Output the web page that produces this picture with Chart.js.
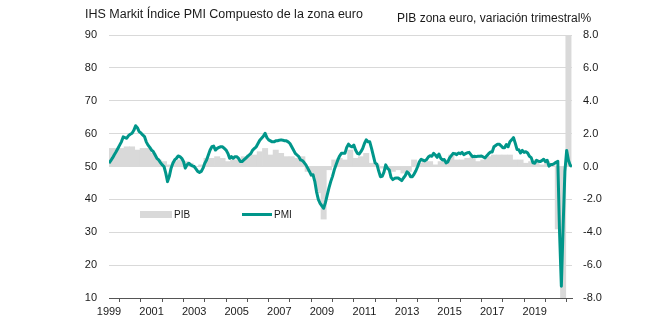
<!DOCTYPE html>
<html>
<head>
<meta charset="utf-8">
<script src="https://cdn.jsdelivr.net/npm/chart.js@4.4.1/dist/chart.umd.min.js"></script>
<style>
  body { margin: 0; background: #fff; }
  #wrap { width: 668px; height: 322px; }
</style>
</head>
<body>
<div id="wrap"><canvas id="pmiChart" width="668" height="322"></canvas></div>
<script>
// Eurozone composite PMI (monthly, Jan 1999 - Oct 2020) vs GDP q/q % (quarterly)

const leftTitle = 'IHS Markit Índice PMI Compuesto de la zona euro';
const rightTitle = 'PIB zona euro, variación trimestral%';
const gdpLabel = 'PIB';
const pmiLabel = 'PMI';

const firstYear = 1999;
const yearTicks = [1999, 2001, 2003, 2005, 2007, 2009, 2011, 2013, 2015, 2017, 2019];

// monthly, starting Jan 1999
const pmiComposite = [
  51.0, 51.8, 52.6, 53.6, 54.5, 55.5, 56.5, 57.5, 59.0, 58.8, 58.6, 59.4,
  59.8, 60.1, 61.0, 62.4, 61.8, 60.6, 60.2, 59.6, 59.1, 57.5, 56.5, 55.8,
  55.0, 54.5, 53.5, 52.5, 52.0, 51.2, 50.5, 50.0, 48.0, 45.4, 47.0, 49.5,
  51.0, 52.0, 52.5, 53.2, 53.0, 52.5, 51.5, 49.5, 50.5, 51.0, 50.5, 50.2,
  50.0, 49.3, 48.5, 48.2, 48.5, 49.5, 51.0, 52.0, 53.5, 55.0, 56.0, 56.2,
  55.0, 55.5, 55.8, 56.0, 56.0, 55.5, 55.0, 54.0, 52.5, 53.0, 52.5, 53.0,
  53.0, 52.5, 51.5, 51.5, 52.0, 52.5, 53.0, 53.5, 54.0, 55.0, 55.5, 56.0,
  57.0, 58.0, 58.6, 59.2, 60.1, 58.8, 58.1, 57.8, 57.5, 57.5, 57.8, 57.8,
  58.0, 58.1, 58.0, 57.8, 57.8, 57.5, 57.0, 56.0, 55.0, 54.0, 53.5, 53.0,
  52.0, 51.8, 51.2, 50.5, 49.5, 48.5, 47.4, 47.5, 45.5, 42.3, 40.0, 38.8,
  38.0, 37.3, 39.0, 41.3, 43.5, 45.4, 47.0, 49.0, 50.5, 52.0, 53.2, 54.0,
  54.0, 54.0, 55.8, 56.8, 56.2, 56.0, 56.5, 55.0, 54.0, 53.8, 54.5, 55.5,
  57.0, 58.1, 57.5, 57.5, 55.5, 53.3, 51.1, 50.7, 48.7, 46.9, 47.0, 48.3,
  50.5, 49.5, 48.9, 46.7, 46.0, 46.4, 46.5, 46.5, 46.1, 45.7, 46.5, 47.2,
  48.4, 47.9, 46.9, 46.9, 47.7, 48.7, 50.0, 51.5, 52.2, 51.9, 51.7, 52.1,
  52.9, 53.3, 53.1, 54.0, 53.5, 52.8, 53.8, 52.5, 52.0, 52.1, 51.1, 51.4,
  52.6, 53.3, 54.0, 53.9, 53.6, 54.1, 53.9, 54.3, 53.6, 53.9, 54.2, 54.3,
  53.6, 53.0, 53.1, 53.0, 53.1, 53.1, 53.2, 52.9, 52.6, 53.3, 53.9, 54.4,
  54.4, 56.0, 56.4, 56.8, 56.8, 56.3, 55.7, 55.7, 56.7, 56.0, 57.5, 58.1,
  58.8, 57.1, 55.2, 55.1, 54.1, 54.9, 54.3, 54.5, 54.1, 53.1, 52.7, 51.1,
  51.0, 51.9, 51.6, 51.5, 51.8, 52.2, 51.5, 51.9, 50.1, 50.6, 50.6, 50.9,
  51.3, 51.6, 29.7, 13.6, 31.9, 48.5, 54.9, 51.9, 50.4, 50.0
];

// quarterly, starting Q1 1999
const gdpQoQ = [
  1.1, 1.1, 1.1, 1.2,
  1.2, 1.0, 1.1, 1.1,
  0.8, 0.4, 0.3, 0.1,
  0.3, 0.4, 0.3, 0.2,
  0.0, 0.1, 0.5, 0.5,
  0.6, 0.5, 0.3, 0.4,
  0.4, 0.6, 0.7, 0.7,
  0.9, 1.1, 0.7, 1.0,
  0.8, 0.6, 0.6, 0.5,
  0.6, -0.3, -0.6, -1.6,
  -3.2, -0.2, 0.4, 0.5,
  0.4, 1.0, 0.5, 0.6,
  0.8, 0.2, 0.1, -0.1,
  -0.2, -0.3, -0.2, -0.4,
  -0.3, 0.4, 0.2, 0.3,
  0.3, 0.1, 0.3, 0.4,
  0.7, 0.4, 0.4, 0.5,
  0.6, 0.3, 0.4, 0.6,
  0.7, 0.7, 0.7, 0.7,
  0.4, 0.4, 0.2, 0.3,
  0.4, 0.1, 0.3, 0.1,
  -3.8, -11.8, 12.6
];

const teal = '#00968a';
const barGrey = '#d9d9d9';
const fontFamily = '"Liberation Sans", Arial, sans-serif';

// month i sits at year + i/12, quarter bars centred on their middle month
const pmiPoints = pmiComposite.map((v, i) => ({ x: firstYear + i / 12, y: v }));
const gdpPoints = gdpQoQ.map((v, i) => ({ x: firstYear + (i * 3 + 1) / 12, y: v }));

const overlayText = {
  id: 'overlayText',
  afterDraw(chart) {
    const ctx = chart.ctx;
    ctx.save();
    ctx.fillStyle = '#1a1a1a';
    ctx.textBaseline = 'alphabetic';
    ctx.font = '12.5px ' + fontFamily;
    ctx.fillText(leftTitle, 85, 18);
    ctx.font = '12px ' + fontFamily;
    ctx.fillText(rightTitle, 397, 22);

    // legend sitting inside the plot
    ctx.fillStyle = barGrey;
    ctx.fillRect(140, 211, 32, 7);
    ctx.strokeStyle = teal;
    ctx.lineWidth = 3;
    ctx.beginPath();
    ctx.moveTo(242, 214.5);
    ctx.lineTo(272, 214.5);
    ctx.stroke();
    ctx.fillStyle = '#1a1a1a';
    ctx.font = '10px ' + fontFamily;
    ctx.textBaseline = 'middle';
    ctx.fillText(gdpLabel, 174, 215);
    ctx.fillText(pmiLabel, 274, 215);
    ctx.restore();
  }
};

new Chart(document.getElementById('pmiChart'), {
  type: 'bar',
  data: {
    datasets: [
      {
        type: 'line',
        label: pmiLabel,
        data: pmiPoints,
        yAxisID: 'y',
        borderColor: teal,
        borderWidth: 3,
        pointRadius: 0,
        tension: 0,
        borderJoinStyle: 'round',
        order: 1
      },
      {
        type: 'bar',
        label: gdpLabel,
        data: gdpPoints,
        yAxisID: 'y1',
        backgroundColor: barGrey,
        borderWidth: 0,
        barPercentage: 1,
        categoryPercentage: 1,
        order: 2
      }
    ]
  },
  options: {
    responsive: false,
    animation: false,
    layout: { padding: { top: 35, left: 0, right: 0, bottom: 0 } },
    plugins: {
      legend: { display: false },
      title: { display: false },
      tooltip: { enabled: false }
    },
    scales: {
      x: {
        type: 'linear',
        min: 1999,
        max: 2020 + 9 / 12,
        offset: false,
        grid: {
          drawOnChartArea: false,
          drawTicks: true,
          tickLength: 4,
          tickColor: '#555'
        },
        border: { color: '#555', width: 1 },
        ticks: {
          stepSize: 1,
          includeBounds: false,
          autoSkip: false,
          maxRotation: 0,
          padding: 3,
          color: '#1a1a1a',
          font: { family: fontFamily, size: 11 },
          callback: v => (yearTicks.includes(v) ? String(v) : '')
        },
        afterFit: s => { s.height = 24; }
      },
      y: {
        position: 'left',
        min: 10,
        max: 90,
        grid: { color: barGrey, drawTicks: false },
        border: { display: false },
        ticks: {
          stepSize: 10,
          padding: 12,
          color: '#1a1a1a',
          font: { family: fontFamily, size: 11 }
        },
        afterFit: s => { s.width = 109; }
      },
      y1: {
        position: 'right',
        min: -8,
        max: 8,
        grid: { drawOnChartArea: false, drawTicks: false },
        border: { display: false },
        ticks: {
          stepSize: 2,
          padding: 11,
          color: '#1a1a1a',
          font: { family: fontFamily, size: 11 },
          callback: v => v.toFixed(1)
        },
        afterFit: s => { s.width = 96; }
      }
    }
  },
  plugins: [overlayText]
});
</script>
</body>
</html>
